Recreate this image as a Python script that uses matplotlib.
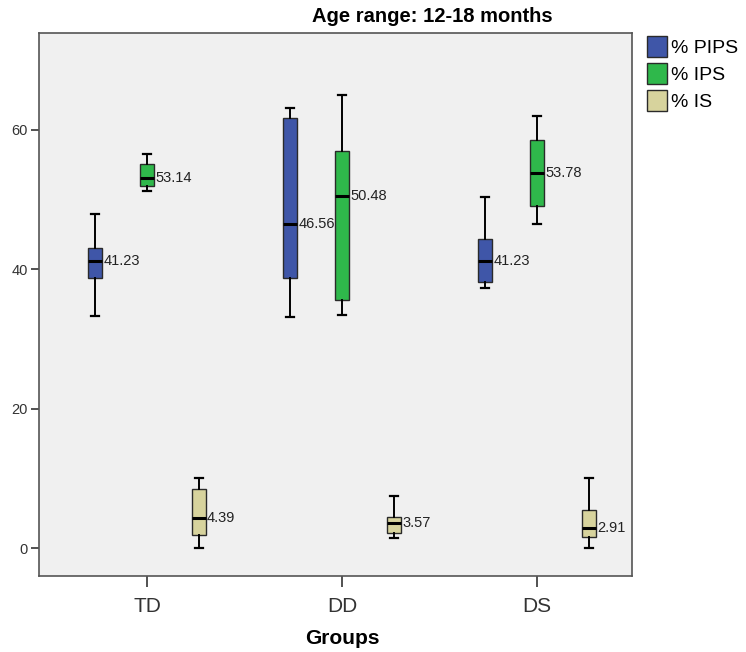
import matplotlib
matplotlib.use("Agg")
import matplotlib.pyplot as plt
from matplotlib.patches import Patch

plt.rcParams["font.family"] = ["Liberation Sans", "DejaVu Sans"]

# ======================================================
# Datos
# ======================================================
grupos = ["TD", "DD", "DS"]
series = ["% PIPS", "% IPS", "% IS"]
colores = ["#3f56a8", "#2fb84b", "#d7d39d"]

# min bigote, Q1, mediana, Q3, max bigote
pips_lo = [33.3, 33.2, 37.3]
pips_q1 = [38.7, 38.7, 38.2]
pips_med = [41.23, 46.56, 41.23]
pips_q3 = [43.0, 61.7, 44.4]
pips_hi = [47.9, 63.1, 50.4]

ips_lo = [51.2, 33.5, 46.5]
ips_q1 = [51.9, 35.6, 49.1]
ips_med = [53.14, 50.48, 53.78]
ips_q3 = [55.1, 57.0, 58.6]
ips_hi = [56.5, 65.0, 62.0]

is_lo = [0.0, 1.4, 0.0]
is_q1 = [1.9, 2.1, 1.6]
is_med = [4.39, 3.57, 2.91]
is_q3 = [8.5, 4.4, 5.5]
is_hi = [10.0, 7.5, 10.0]

datos = [
    (pips_lo, pips_q1, pips_med, pips_q3, pips_hi),
    (ips_lo, ips_q1, ips_med, ips_q3, ips_hi),
    (is_lo, is_q1, is_med, is_q3, is_hi),
]

# ======================================================
# Figura
# ======================================================
fig = plt.figure(figsize=(7.46, 6.52), dpi=100)
ax = fig.add_axes([39 / 746, 76 / 652, 593 / 746, 543 / 652])
ax.set_facecolor("#f0f0f0")

offsets = [-0.265, 0.0, 0.265]
ancho = 0.072

for k, (lo, q1, med, q3, hi) in enumerate(datos):
    stats = []
    for g in range(len(grupos)):
        stats.append(dict(whislo=lo[g], q1=q1[g], med=med[g], q3=q3[g],
                          whishi=hi[g], fliers=[]))
    pos = [g + offsets[k] for g in range(len(grupos))]
    ax.bxp(stats, positions=pos, widths=ancho, capwidths=0.04,
           showfliers=False, patch_artist=True,
           boxprops=dict(facecolor=colores[k], edgecolor="#2a2a2a", linewidth=1.0),
           medianprops=dict(color="black", linewidth=2.2),
           whiskerprops=dict(color="black", linewidth=1.4),
           capprops=dict(color="black", linewidth=1.6),
           manage_ticks=False)
    for g in range(len(grupos)):
        ax.annotate(f"{med[g]:.2f}", xy=(pos[g] + ancho / 2, med[g]),
                    xytext=(1.0, 0), textcoords="offset points",
                    ha="left", va="center", fontsize=10.5, color="#222222")

ax.set_xlim(-0.554, 2.487)
ax.set_ylim(-4.0, 73.9)
ax.set_xticks(range(len(grupos)))
ax.set_xticklabels(grupos, fontsize=15)
ax.set_yticks([0, 20, 40, 60])
ax.tick_params(axis="y", labelsize=10.5, length=6, width=1.2, pad=2,
               colors="#333333")
ax.tick_params(axis="x", length=8, width=1.2, pad=7, colors="#333333")
for lado in ax.spines.values():
    lado.set_color("#555555")
    lado.set_linewidth(1.2)

ax.set_xlabel("Groups", fontsize=15, fontweight="bold")
ax.xaxis.set_label_coords((342 - 39) / 593, -(638 - 576) / 543)
ax.xaxis.label.set_va("center")

fig.text(432 / 746, 1 - 17 / 652, "Age range: 12-18 months", ha="center",
         va="center", fontsize=14.5, fontweight="bold")

handles = [Patch(facecolor=c, edgecolor="#2a2a2a", label=s)
           for c, s in zip(colores, series)]
fig.legend(handles=handles, loc="upper left",
           bbox_to_anchor=(645 / 746, 1 - 34 / 652), frameon=False,
           fontsize=14, handlelength=1.05, handleheight=1.3,
           handletextpad=0.2, labelspacing=0.3, borderpad=0.1,
           borderaxespad=0.0)

fig.savefig("out.png", dpi=100)
